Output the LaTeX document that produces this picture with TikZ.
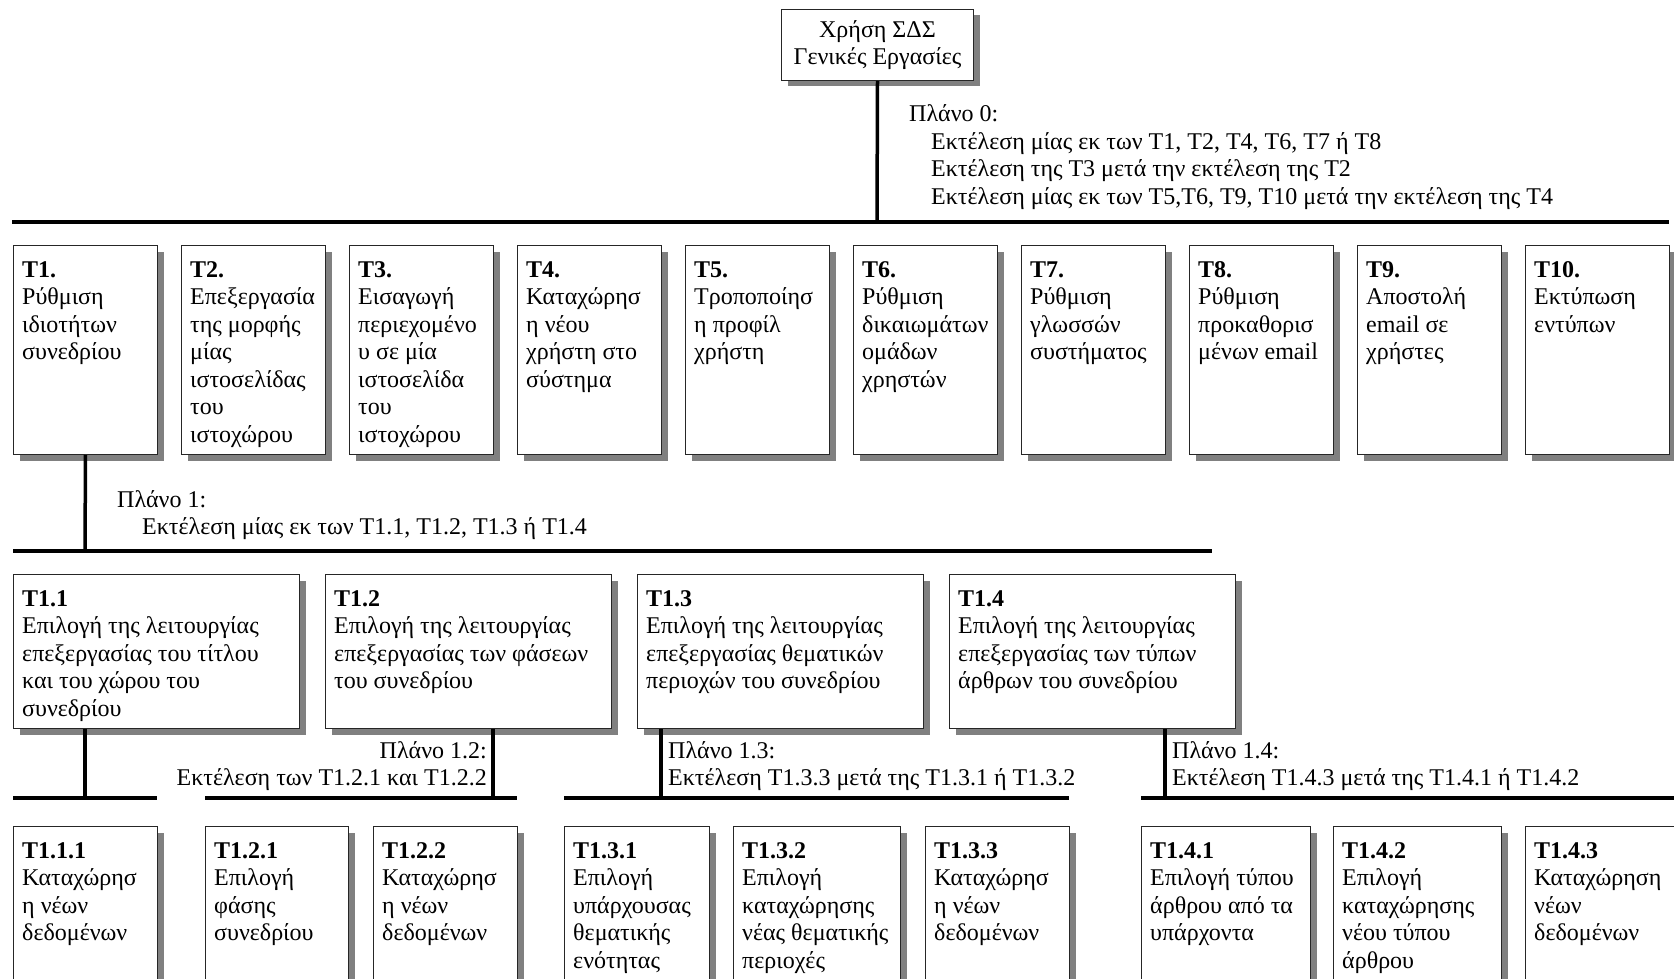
\documentclass[tikz,border=0pt]{standalone}
\usepackage{fontspec}
\setmainfont{Liberation Serif}
\usetikzlibrary{shadows}
\newcommand\mylines[1]{\begin{tabular}[t]{@{}l@{}}#1\end{tabular}}
\newcommand\mylinesr[1]{\begin{tabular}[t]{@{}r@{}}#1\end{tabular}}
\newcommand\taskbox[6]{%
  \node[box, minimum width=#4pt, minimum height=#5pt] (#1) at (#2,#3) {};
  \node[txt] (#1x) at ([xshift=9pt,yshift=-32pt]#1.north west) {\mylines{#6}};}
\begin{document}
\begin{tikzpicture}[x=1pt,y=-1pt,
  box/.style={draw=black!85, line width=1pt, fill=white, inner sep=0pt, anchor=north west,
    drop shadow={shadow xshift=6pt, shadow yshift=-6pt, fill=black!50, opacity=1}},
  txt/.style={anchor=base west, inner sep=0pt, font=\fontsize{24}{27.5}\selectfont},
  plan/.style={inner sep=0pt, font=\fontsize{24}{27.5}\selectfont},
  bus/.style={line width=3.5pt}]
\useasboundingbox (0,0) rectangle (1674,979);
\fill[white] (0,0) rectangle (1674,979);

% root
\node[box, minimum width=192pt, minimum height=71pt, align=center,
      font=\fontsize{24}{27.5}\selectfont] (root) at (781,9) {Χρήση ΣΔΣ\\Γενικές Εργασίες};

% top row
\taskbox{t1}{13}{245}{144}{209}{\textbf{T1.}\\Ρύθμιση\\ιδιοτήτων\\συνεδρίου}
\taskbox{t2}{181}{245}{144}{209}{\textbf{T2.}\\Επεξεργασία\\της μορφής\\μίας\\ιστοσελίδας\\του\\ιστοχώρου}
\taskbox{t3}{349}{245}{144}{209}{\textbf{T3.}\\Εισαγωγή\\περιεχομένο\\υ σε μία\\ιστοσελίδα\\του\\ιστοχώρου}
\taskbox{t4}{517}{245}{144}{209}{\textbf{T4.}\\Καταχώρησ\\η νέου\\χρήστη στο\\σύστημα}
\taskbox{t5}{685}{245}{144}{209}{\textbf{T5.}\\Τροποποίησ\\η προφίλ\\χρήστη}
\taskbox{t6}{853}{245}{144}{209}{\textbf{T6.}\\Ρύθμιση\\δικαιωμάτων\\ομάδων\\χρηστών}
\taskbox{t7}{1021}{245}{144}{209}{\textbf{T7.}\\Ρύθμιση\\γλωσσών\\συστήματος}
\taskbox{t8}{1189}{245}{144}{209}{\textbf{T8.}\\Ρύθμιση\\προκαθορισ\\μένων email}
\taskbox{t9}{1357}{245}{144}{209}{\textbf{T9.}\\Αποστολή\\email σε\\χρήστες}
\taskbox{t10}{1525}{245}{144}{209}{\textbf{T10.}\\Εκτύπωση\\εντύπων}

% second row
\taskbox{t11}{13}{574}{286}{154}{\textbf{T1.1}\\Επιλογή της λειτουργίας\\επεξεργασίας του τίτλου\\και του χώρου του\\συνεδρίου}
\taskbox{t12}{325}{574}{286}{154}{\textbf{T1.2}\\Επιλογή της λειτουργίας\\επεξεργασίας των φάσεων\\του συνεδρίου}
\taskbox{t13}{637}{574}{286}{154}{\textbf{T1.3}\\Επιλογή της λειτουργίας\\επεξεργασίας θεματικών\\περιοχών του συνεδρίου}
\taskbox{t14}{949}{574}{286}{154}{\textbf{T1.4}\\Επιλογή της λειτουργίας\\επεξεργασίας των τύπων\\άρθρων του συνεδρίου}

% third row
\taskbox{t111}{13}{826}{144}{210}{\textbf{T1.1.1}\\Καταχώρησ\\η νέων\\δεδομένων}
\taskbox{t121}{205}{826}{143}{210}{\textbf{T1.2.1}\\Επιλογή\\φάσης\\συνεδρίου}
\taskbox{t122}{373}{826}{144}{210}{\textbf{T1.2.2}\\Καταχώρησ\\η νέων\\δεδομένων}
\taskbox{t131}{564}{826}{145}{210}{\textbf{T1.3.1}\\Επιλογή\\υπάρχουσας\\θεματικής\\ενότητας}
\taskbox{t132}{733}{826}{167}{210}{\textbf{T1.3.2}\\Επιλογή\\καταχώρησης\\νέας θεματικής\\περιοχές}
\taskbox{t133}{925}{826}{144}{210}{\textbf{T1.3.3}\\Καταχώρησ\\η νέων\\δεδομένων}
\taskbox{t141}{1141}{826}{169}{210}{\textbf{T1.4.1}\\Επιλογή τύπου\\άρθρου από τα\\υπάρχοντα}
\taskbox{t142}{1333}{826}{168}{210}{\textbf{T1.4.2}\\Επιλογή\\καταχώρησης\\νέου τύπου\\άρθρου}
\taskbox{t143}{1525}{826}{170}{210}{\textbf{T1.4.3}\\Καταχώρηση\\νέων\\δεδομένων}

% bus coordinates
\coordinate (b0) at (877,222);
\coordinate (b0l) at (12,222);
\coordinate (b0r) at (1669,222);
\coordinate (b1) at (85,551);
\coordinate (b1l) at (13,551);
\coordinate (b1r) at (1212,551);
\coordinate (b11) at (85,798);
\coordinate (b11l) at (13,798);
\coordinate (b11r) at (157,798);
\coordinate (b12) at (493,798);
\coordinate (b12l) at (205,798);
\coordinate (b12r) at (517,798);
\coordinate (b13) at (661,798);
\coordinate (b13l) at (564,798);
\coordinate (b13r) at (1069,798);
\coordinate (b14) at (1165,798);
\coordinate (b14l) at (1141,798);
\coordinate (b14r) at (1690,798);

% connectors
\draw[bus] (root.south) -- (b0);
\draw[bus] (b0l) -- (b0r);
\draw[bus] (t1.south) -- (b1);
\draw[bus] (b1l) -- (b1r);
\draw[bus] (t11.south -| b11) -- (b11);
\draw[bus] (b11l) -- (b11r);
\draw[bus] (t12.south -| b12) -- (b12);
\draw[bus] (b12l) -- (b12r);
\draw[bus] (t13.south -| b13) -- (b13);
\draw[bus] (b13l) -- (b13r);
\draw[bus] (t14.south -| b14) -- (b14);
\draw[bus] (b14l) -- (b14r);

% plans
\node[plan, anchor=base west] (p0) at (909,122) {\mylines{Πλάνο 0:\\
  \hspace*{22pt}Εκτέλεση μίας εκ των T1, T2, T4, T6, T7 ή T8\\
  \hspace*{22pt}Εκτέλεση της T3 μετά την εκτέλεση της T2\\
  \hspace*{22pt}Εκτέλεση μίας εκ των T5,T6, T9, T10 μετά την εκτέλεση της T4}};
\node[plan, anchor=base west] (p1) at (117,507) {\mylines{Πλάνο 1:\\
  \hspace*{25pt}Εκτέλεση μίας εκ των T1.1, T1.2, T1.3 ή T1.4}};
\node[plan, anchor=base east] (p12) at (487,758) {\mylinesr{Πλάνο 1.2:\\Εκτέλεση των T1.2.1 και T1.2.2}};
\node[plan, anchor=base west] (p13) at (668,758) {\mylines{Πλάνο 1.3:\\Εκτέλεση T1.3.3 μετά της T1.3.1 ή T1.3.2}};
\node[plan, anchor=base west] (p14) at (1172,758) {\mylines{Πλάνο 1.4:\\Εκτέλεση T1.4.3 μετά της T1.4.1 ή T1.4.2}};
\end{tikzpicture}
\end{document}
